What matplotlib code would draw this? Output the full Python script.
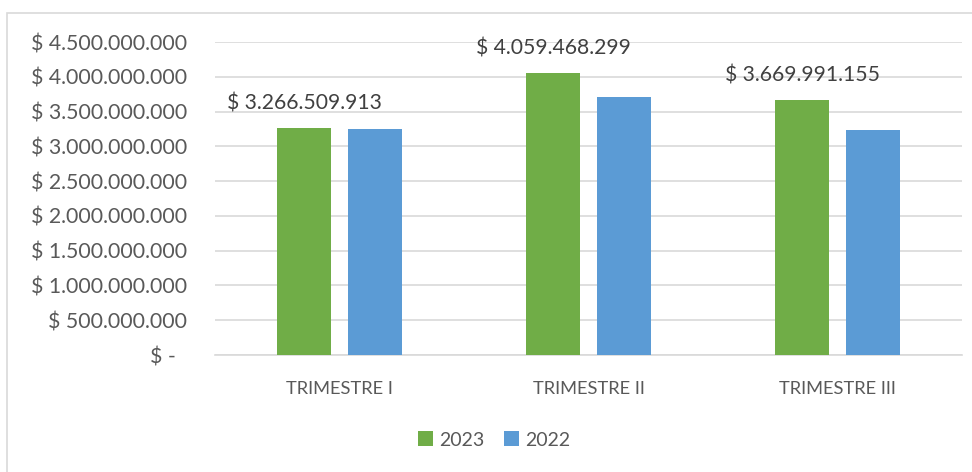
import matplotlib.pyplot as plt
from matplotlib.patches import Rectangle
import numpy as np

categories = ['TRIMESTRE I', 'TRIMESTRE II', 'TRIMESTRE III']
series_names = ['2023', '2022']
values_2023 = [3266509913, 4059468299, 3669991155]
values_2022 = [3250000000, 3710000000, 3230000000]
yticks = [0, 500000000, 1000000000, 1500000000, 2000000000, 2500000000,
          3000000000, 3500000000, 4000000000, 4500000000]

green = '#70AD47'
blue = '#5B9BD5'
text_col = '#595959'

plt.rcParams['font.family'] = ['Lato', 'DejaVu Sans']


def money(v):
    if v == 0:
        return '$ -  '
    return '$ ' + format(int(round(v)), ',').replace(',', '.')


fig = plt.figure(figsize=(9.72, 4.72), dpi=100)
fig.patches.append(Rectangle((7 / 972, -0.1), 1.2, 1 - 13 / 472 + 0.1,
                             transform=fig.transFigure, fill=False,
                             edgecolor='#d9d9d9', linewidth=1.2))
ax = fig.add_axes([215 / 972, 1 - 355 / 472, 747 / 972, 313 / 472])

x = np.arange(len(categories))
w = 0.22
off = 0.1425
b1 = ax.bar(x - off, values_2023, w, color=green, label=series_names[0], zorder=3)
b2 = ax.bar(x + off, values_2022, w, color=blue, label=series_names[1], zorder=3)

for xi, v in zip(x, values_2023):
    ax.text(xi - off, v + 200000000, money(v), ha='center', va='bottom',
            fontsize=15.2, color='#404040')

ax.set_xlim(-0.5, 2.5)
ax.set_ylim(0, 4500000000)
ax.set_yticks(yticks)
ax.set_yticklabels([money(v) for v in yticks], fontsize=15.3, color=text_col)
ax.set_xticks(x)
ax.set_xticklabels(categories, fontsize=13.2, color=text_col)
ax.tick_params(axis='y', length=0, pad=20)
ax.tick_params(axis='x', length=0, pad=19)
ax.grid(axis='y', color='#d9d9d9', linewidth=1.2, zorder=0)
for s in ['top', 'right', 'left']:
    ax.spines[s].set_visible(False)
ax.spines['bottom'].set_color('#d9d9d9')
ax.spines['bottom'].set_linewidth(1.2)

fig.legend(handles=[b1, b2], loc='center', bbox_to_anchor=(494 / 972, 1 - 440 / 472),
           ncol=2, frameon=False, fontsize=14, handlelength=0.8, handleheight=0.8,
           handletextpad=0.3, columnspacing=1.0, labelcolor=text_col)

fig.savefig('out.png', dpi=100)
